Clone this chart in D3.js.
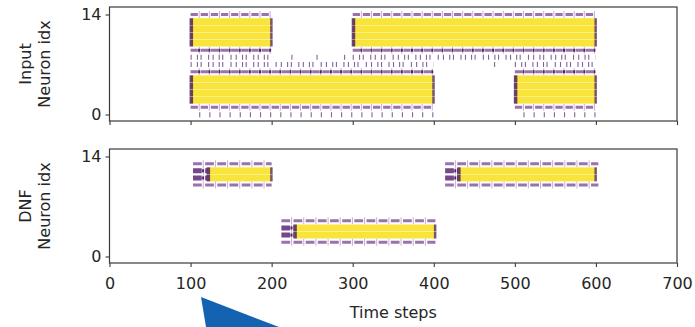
<!DOCTYPE html>
<html>
<head>
<meta charset="utf-8">
<script src="https://cdn.jsdelivr.net/npm/d3@7"></script>
<style>
  body { margin: 0; background: #fff; }
  svg { display: block; }
  text { font-family: "DejaVu Sans", sans-serif; fill: #262626; }
</style>
</head>
<body>
<svg id="chart" width="695" height="327"></svg>
<script>
// ---- data -------------------------------------------------------------
const timeTicks = [0, 100, 200, 300, 400, 500, 600, 700];
const neuronTicks = [0, 14];

// Spike trains of the input layer: [neuron, first step, last step, firing]
const inputTrains = [
  [14, 100, 200, "regular"], [14, 300, 600, "regular"],
  [13, 100, 200, "burst"], [13, 300, 600, "burst"],
  [12, 100, 200, "burst"], [12, 300, 600, "burst"],
  [11, 100, 200, "burst"], [11, 300, 600, "burst"],
  [10, 100, 200, "burst"], [10, 300, 600, "burst"],
  [9, 100, 200, "regularDot"], [9, 300, 600, "regularDot"],
  [8, 100, 200, "sparse"], [8, 300, 600, "sparse"],
  [7, 100, 400, "sparse"], [7, 500, 600, "sparse"],
  [6, 100, 400, "regularDot"], [6, 500, 600, "regularDot"],
  [5, 100, 400, "burst"], [5, 500, 600, "burst"],
  [4, 100, 400, "burst"], [4, 500, 600, "burst"],
  [3, 100, 400, "burst"], [3, 500, 600, "burst"],
  [2, 100, 400, "burst"], [2, 500, 600, "burst"],
  [1, 100, 400, "regular"], [1, 500, 600, "regular"],
  [0, 100, 400, "ticks"], [0, 500, 600, "ticks"]
];
// isolated input spikes: [neuron, step]
const inputSingles = [[8, 225], [8, 256], [8, 290], [7, 475]];

// Spike trains of the DNF layer
const dnfTrains = [
  [13, 103, 200, "regular"], [10, 103, 200, "regular"],
  [12, 103, 121, "onset"], [11, 103, 121, "onset"],
  [12, 121, 200, "burst"], [11, 121, 200, "burst"],
  [5, 212, 402, "regular"], [2, 212, 402, "regular"],
  [4, 212, 228, "onset"], [3, 212, 228, "onset"],
  [4, 228, 402, "burst"], [3, 228, 402, "burst"],
  [13, 414, 603, "regular"], [10, 414, 603, "regular"],
  [12, 414, 430, "onset"], [11, 414, 430, "onset"],
  [12, 430, 600, "burst"], [11, 430, 600, "burst"]
];
const dnfSingles = [];

// ---- layout -----------------------------------------------------------
const svg = d3.select("#chart");
const x = d3.scaleLinear().domain([0, 700]).range([109.5, 677]);
const yDomain = [-0.91, 15.05];

const panels = [
  { label: ["Input", "Neuron idx"], top: 7, bottom: 121, trains: inputTrains, singles: inputSingles, period: 12.5, showX: false },
  { label: ["DNF", "Neuron idx"], top: 149, bottom: 263, trains: dnfTrains, singles: dnfSingles, period: 15, showX: true }
];

const purple = "#9a72ac", lightPurple = "#c6b0d1", darkPurple = "#4f2364", yellow = "#f9e43c";

panels.forEach(p => {
  const y = d3.scaleLinear().domain(yDomain).range([p.bottom, p.top]);
  const g = svg.append("g");
  const stepPx = x(p.period) - x(0);

  const marks = g.append("g");
  const lineFor = (sel, d) => sel
    .attr("x1", x(d[1])).attr("x2", x(d[2]))
    .attr("y1", y(d[0])).attr("y2", y(d[0]));

  // regular firing: dashes with faint vertical spike ticks in the gaps
  p.trains.filter(d => d[3] === "regular" || d[3] === "regularDot" || d[3] === "onset").forEach(d => {
    const dark = d[3] === "onset";
    marks.append("line").call(lineFor, d)
      .attr("stroke", lightPurple).attr("stroke-width", 7)
      .attr("stroke-dasharray", `1 ${stepPx - 1}`)
      .attr("stroke-dashoffset", -stepPx * 0.8);
    marks.append("line").call(lineFor, d)
      .attr("stroke", dark ? "#74488a" : purple).attr("stroke-width", dark ? 5 : 3)
      .attr("stroke-dasharray", `${stepPx * 0.72} ${stepPx * 0.28}`);
    if (d[3] !== "regular") {
      marks.append("line").call(lineFor, d)
        .attr("stroke", darkPurple).attr("stroke-width", 3)
        .attr("stroke-dasharray", `2 ${stepPx - 2}`)
        .attr("stroke-dashoffset", -stepPx * 0.75);
    }
  });

  // irregular firing: short vertical ticks
  p.trains.filter(d => d[3] === "sparse").forEach(d => {
    marks.append("line").call(lineFor, d)
      .attr("stroke", "#86629a").attr("stroke-width", 5)
      .attr("stroke-dasharray", "1.1 5.2 1.1 2.6 1.1 6.4 1.1 3.4 1.1 5.0 1.1 2.4 1.1 7.2 1.1 4.1");
  });
  p.trains.filter(d => d[3] === "ticks").forEach(d => {
    marks.append("line").call(lineFor, [d[0] - 0.05, d[1], d[2]])
      .attr("stroke", "#86629a").attr("stroke-width", 5)
      .attr("stroke-dasharray", `1.1 ${stepPx - 1.1}`)
      .attr("stroke-dashoffset", -stepPx * 0.85);
  });
  p.singles.forEach(d => {
    marks.append("line")
      .attr("x1", x(d[1])).attr("x2", x(d[1]))
      .attr("y1", y(d[0]) - 2.5).attr("y2", y(d[0]) + 2.5)
      .attr("stroke", "#86629a").attr("stroke-width", 1.1);
  });

  // bursts: spikes at every step, with the first and last spikes outlined
  const rowH = (y(0) - y(1)) - 0.3;
  p.trains.filter(d => d[3] === "burst").forEach(d => {
    marks.append("rect")
      .attr("x", x(d[1])).attr("width", x(d[2]) - x(d[1]))
      .attr("y", y(d[0]) - rowH / 2).attr("height", rowH)
      .attr("fill", yellow);
    marks.append("rect")
      .attr("x", x(d[1]) - 1).attr("width", 3.5)
      .attr("y", y(d[0]) - rowH / 2).attr("height", rowH)
      .attr("fill", darkPurple).attr("opacity", 0.85);
    marks.append("rect")
      .attr("x", x(d[2]) - 1.5).attr("width", 2.5)
      .attr("y", y(d[0]) - rowH / 2).attr("height", rowH)
      .attr("fill", darkPurple).attr("opacity", 0.75);
  });

  // frame
  g.append("rect")
    .attr("x", x(0)).attr("y", p.top)
    .attr("width", x(700) - x(0)).attr("height", p.bottom - p.top)
    .attr("fill", "none").attr("stroke", "#3a3a3a").attr("stroke-width", 1.2);

  // axes
  const yAxis = g.append("g").attr("transform", `translate(${x(0)},0)`)
    .call(d3.axisLeft(y).tickValues(neuronTicks).tickSize(4).tickPadding(4));
  const xAxis = g.append("g").attr("transform", `translate(0,${p.bottom})`)
    .call(d3.axisBottom(x).tickValues(timeTicks).tickSize(4).tickPadding(11)
      .tickFormat(p.showX ? d3.format("d") : () => ""));
  [yAxis, xAxis].forEach(a => {
    a.select(".domain").remove();
    a.selectAll(".tick line").attr("stroke", "#3a3a3a").attr("stroke-width", 1.1);
    a.selectAll(".tick text").attr("font-size", 16).attr("fill", "#262626")
      .style("font-family", "'DejaVu Sans', sans-serif");
  });

  // two-line axis title
  const cy = (p.top + p.bottom) / 2;
  const t = g.append("text")
    .attr("transform", `translate(31,${cy}) rotate(-90)`)
    .attr("text-anchor", "middle").attr("font-size", 16);
  t.append("tspan").attr("x", 0).attr("dy", 0).text(p.label[0]);
  t.append("tspan").attr("x", 0).attr("dy", 19).text(p.label[1]);
});

svg.append("text")
  .attr("x", (x(0) + x(700)) / 2).attr("y", 318)
  .attr("text-anchor", "middle").attr("font-size", 16)
  .text("Time steps");

// pointer shape in the lower margin
svg.append("polygon")
  .attr("points", [[201, 297], [279, 327], [206, 327]].map(p => p.join(",")).join(" "))
  .attr("fill", "#1463b3");
</script>
</body>
</html>
